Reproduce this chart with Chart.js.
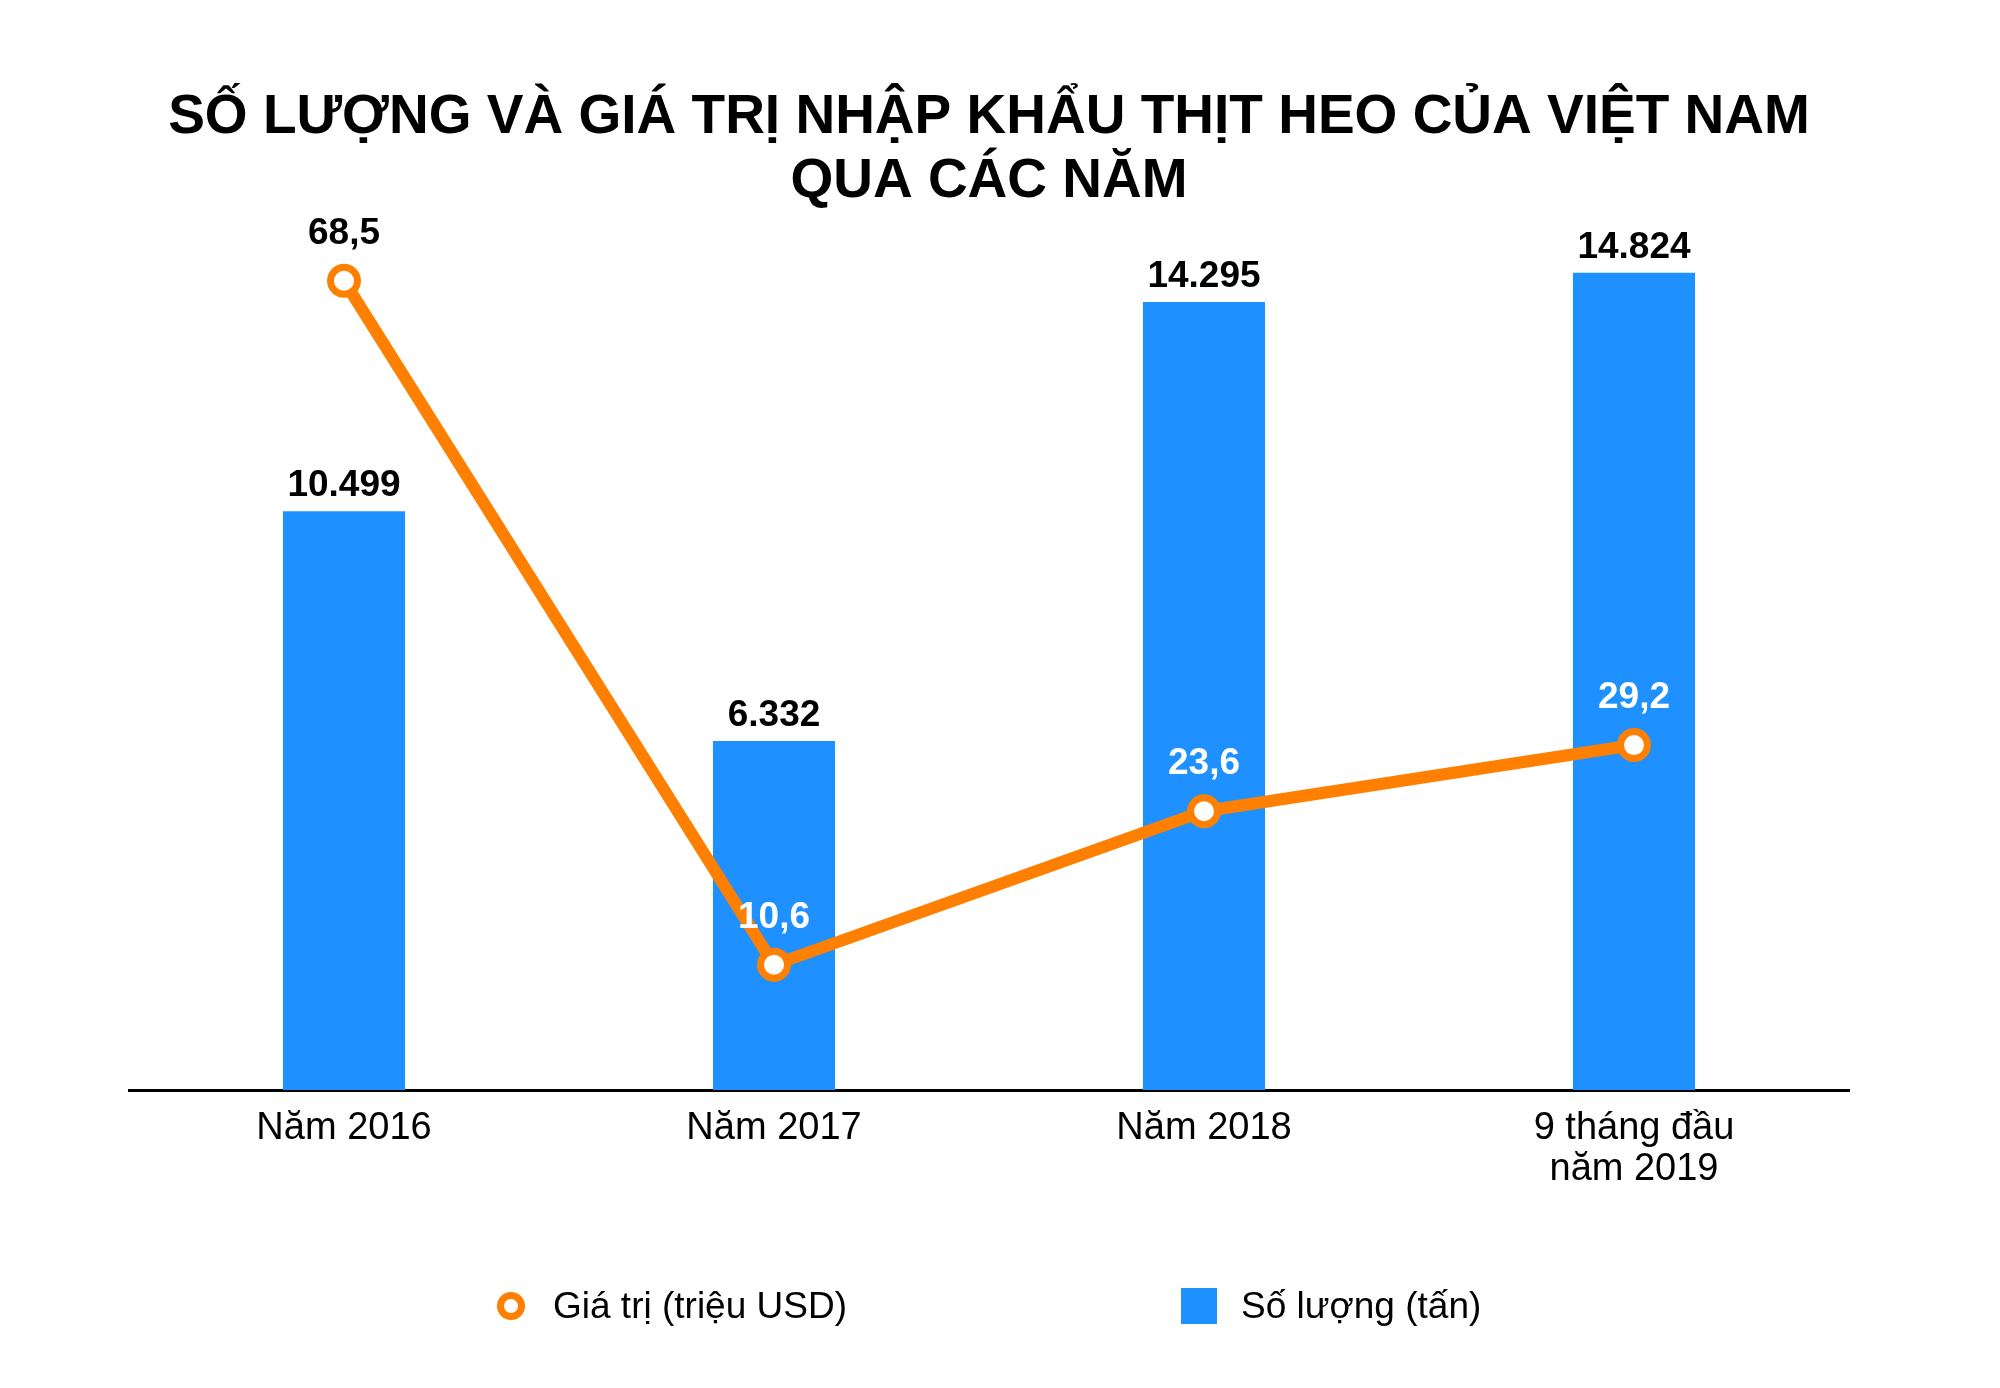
<!DOCTYPE html>
<html>
<head>
<meta charset="utf-8">
<script src="https://cdn.jsdelivr.net/npm/chart.js@4.4.1/dist/chart.umd.min.js"></script>
<style>
  html, body { margin: 0; padding: 0; background: #fff; }
  #wrap { position: relative; width: 2000px; height: 1388px; }
  #legend { position: absolute; left: 0; top: 1283px; width: 2000px; height: 46px;
            font-family: 'Liberation Sans', Arial, sans-serif; font-size: 37px; color: #000; }
  .item { position: absolute; top: 0; height: 46px; display: flex; align-items: center; }
  .ring { width: 14px; height: 14px; border: 7px solid #FF8000; border-radius: 50%; background: #fff; }
  .box { width: 36px; height: 36px; }
</style>
</head>
<body>
<div id="wrap">
  <canvas id="chart" width="2000" height="1388"></canvas>
  <div id="legend"></div>
</div>
<script>
var years = ['Năm 2016', 'Năm 2017', 'Năm 2018', ['9 tháng đầu', 'năm 2019']];
var soLuong = [10499, 6332, 14295, 14824];     // tấn
var giaTri = [68.5, 10.6, 23.6, 29.2];          // triệu USD
var soLuongLabels = ['10.499', '6.332', '14.295', '14.824'];
var giaTriLabels = ['68,5', '10,6', '23,6', '29,2'];

var FONT = "'Liberation Sans', Arial, sans-serif";

// value labels drawn on top of the marks
var valueLabels = {
    id: 'valueLabels',
    afterDatasetsDraw: function (chart) {
        var ctx = chart.ctx;
        var barMeta = chart.getDatasetMeta(1);
        var lineMeta = chart.getDatasetMeta(0);
        ctx.save();
        ctx.font = 'bold 37px ' + FONT;
        ctx.textAlign = 'center';
        ctx.textBaseline = 'middle';
        barMeta.data.forEach(function (bar, i) {
            ctx.fillStyle = '#000';
            ctx.fillText(soLuongLabels[i], bar.x, bar.y - 25);
        });
        lineMeta.data.forEach(function (pt, i) {
            var ly = pt.y - 47;
            // white text when it sits over the bar
            ctx.fillStyle = ly > barMeta.data[i].y ? '#fff' : '#000';
            ctx.fillText(giaTriLabels[i], pt.x, ly);
        });
        ctx.restore();
    }
};

var chart = new Chart(document.getElementById('chart').getContext('2d'), {
    type: 'bar',
    data: {
        labels: years,
        datasets: [{
            type: 'line',
            label: 'Giá trị (triệu USD)',
            data: giaTri,
            yAxisID: 'y2',
            order: 0,
            borderColor: '#FF8000',
            backgroundColor: '#FF8000',
            borderWidth: 12,
            tension: 0,
            pointRadius: 13.5,
            pointHoverRadius: 13.5,
            pointBorderWidth: 7,
            pointBackgroundColor: '#fff',
            pointBorderColor: '#FF8000'
        }, {
            type: 'bar',
            label: 'Số lượng (tấn)',
            data: soLuong,
            yAxisID: 'y',
            order: 1,
            backgroundColor: '#1E90FF',
            categoryPercentage: 1,
            barPercentage: 0.284
        }]
    },
    options: {
        responsive: false,
        animation: false,
        layout: { padding: { left: 129, right: 151, top: 0, bottom: 180 } },
        plugins: {
            legend: { display: false },
            tooltip: { enabled: false },
            title: {
                display: true,
                text: ['SỐ LƯỢNG VÀ GIÁ TRỊ NHẬP KHẨU THỊT HEO CỦA VIỆT NAM', 'QUA CÁC NĂM'],
                color: '#000',
                font: { family: FONT, size: 55, weight: 'bold', lineHeight: 64 / 55 },
                padding: { top: 86, bottom: 16 }
            }
        },
        scales: {
            x: {
                grid: { display: false, drawTicks: false },
                border: { display: true, color: '#000', width: 3 },
                ticks: { color: '#000', padding: 18, font: { family: FONT, size: 38, lineHeight: 41 / 38 } }
            },
            y: {
                display: false,
                min: 0,
                max: 15600
            },
            y2: {
                display: false,
                min: 0,
                max: 72.8
            }
        }
    },
    plugins: [valueLabels]
});

// legend below the chart
var legend = document.getElementById('legend');
var lineItem = document.createElement('div');
lineItem.className = 'item';
lineItem.style.left = '497px';
lineItem.innerHTML = '<span class="ring"></span><span style="margin-left:28px">' + chart.data.datasets[0].label + '</span>';
var barItem = document.createElement('div');
barItem.className = 'item';
barItem.style.left = '1181px';
barItem.innerHTML = '<span class="box" style="background:' + chart.data.datasets[1].backgroundColor + '"></span><span style="margin-left:24px">' + chart.data.datasets[1].label + '</span>';
legend.appendChild(lineItem);
legend.appendChild(barItem);
</script>
</body>
</html>
